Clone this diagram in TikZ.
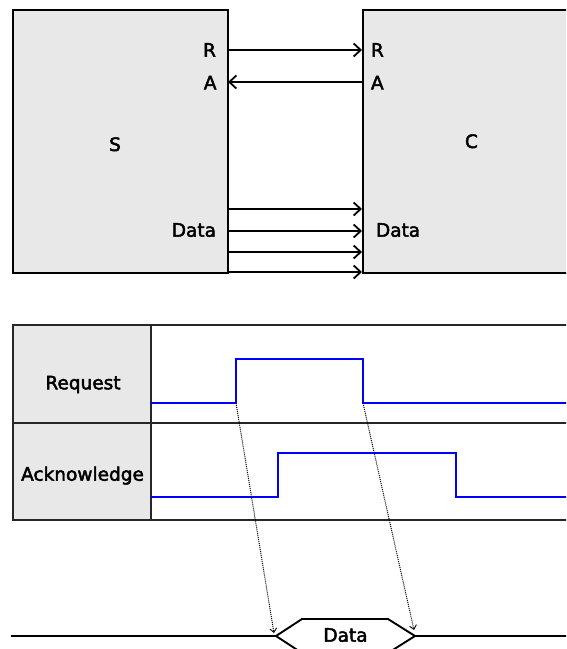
\documentclass[tikz,border=0pt]{standalone}
\usepackage{fontspec}
\setmainfont{DejaVu Sans}[FakeBold=2.5]
\usetikzlibrary{arrows.meta}
\begin{document}
\begin{tikzpicture}[x=1pt,y=-1pt,
  every node/.style={inner sep=0pt,outer sep=0pt,font=\fontsize{18.5}{20}\selectfont},
  block/.style={draw=black,fill=gray!18,line width=1.8pt},
  wire/.style={line width=1.8pt,-{Straight Barb[length=7pt,width=13pt,line width=1.8pt]}},
  grid/.style={draw=black!85,line width=1.9pt},
  signal/.style={draw=blue,line width=2.2pt},
  hint/.style={draw=black,line width=1pt,dash pattern=on 1pt off 1pt,-{Straight Barb[length=4pt,width=7pt,line width=0.9pt]}},
  bus/.style={draw=black,line width=1.9pt,line join=miter}]
\clip (0,0) rectangle (566,649);
\fill[white] (0,0) rectangle (566,649);

% sender and receiver blocks
\path[block] (13,10) rectangle (228,273);
\path[block] (363,10) rectangle (580,273);
\node[anchor=base] (S) at (115,151) {S};
\node[anchor=base] (C) at (471.5,148) {C};

% port labels
\node[anchor=base east] (sR) at (216,56.7) {R};
\node[anchor=base east] (sA) at (216.5,89.3) {A};
\node[anchor=base east] (sD) at (216,236.7) {Data};
\node[anchor=base west] (cR) at (371,56.7) {R};
\node[anchor=base west] (cA) at (371,89.3) {A};
\node[anchor=base west] (cD) at (376,236.7) {Data};

% port anchors on the block edges
\coordinate (sR1) at (228,50);  \coordinate (cR1) at (362,50);
\coordinate (sA1) at (228,82);  \coordinate (cA1) at (362,82);
\coordinate (sD1) at (228,209); \coordinate (cD1) at (362,209);
\coordinate (sD2) at (228,231); \coordinate (cD2) at (362,231);
\coordinate (sD3) at (228,252); \coordinate (cD3) at (362,252);
\coordinate (sD4) at (228,272); \coordinate (cD4) at (362,272);

\draw[wire] (sR1) -- (cR1);
\draw[wire] (cA1) -- (sA1);
\draw[wire] (sD1) -- (cD1);
\draw[wire] (sD2) -- (cD2);
\draw[wire] (sD3) -- (cD3);
\draw[wire] (sD4) -- (cD4);

% timing table
\fill[gray!18] (13,325) rectangle (151,520);
\draw[grid] (580,325) -- (13,325) -- (13,520) -- (580,520);
\draw[grid] (13,423) -- (580,423);
\draw[grid] (151,325) -- (151,520);
\node[anchor=base] (req) at (83,389.3) {Request};
\node[anchor=base] (ack) at (82.5,480.7) {Acknowledge};

% handshake waveforms
\coordinate (reqUp) at (236,403);
\coordinate (reqDn) at (363,403);
\draw[signal] (151,403) -- (reqUp) -- (236,359) -- (363,359) -- (reqDn) -- (580,403);
\draw[signal] (151,497) -- (278,497) -- (278,453) -- (456,453) -- (456,497) -- (580,497);

% data bus
\coordinate (busL) at (276,636);
\coordinate (busR) at (415,636);
\draw[bus] (11,636) -- (busL);
\draw[bus] (busL) -- (302,619) -- (388,619) -- (busR) -- (388,653) -- (302,653) -- cycle;
\draw[bus] (busR) -- (580,636);
\node[anchor=base] (data) at (345.5,641.7) {Data};

% validity window
\coordinate (tipL) at (274,633);
\coordinate (tipR) at (414,630);
\draw[hint] (reqUp) -- (tipL);
\draw[hint] (reqDn) -- (tipR);
\end{tikzpicture}
\end{document}
